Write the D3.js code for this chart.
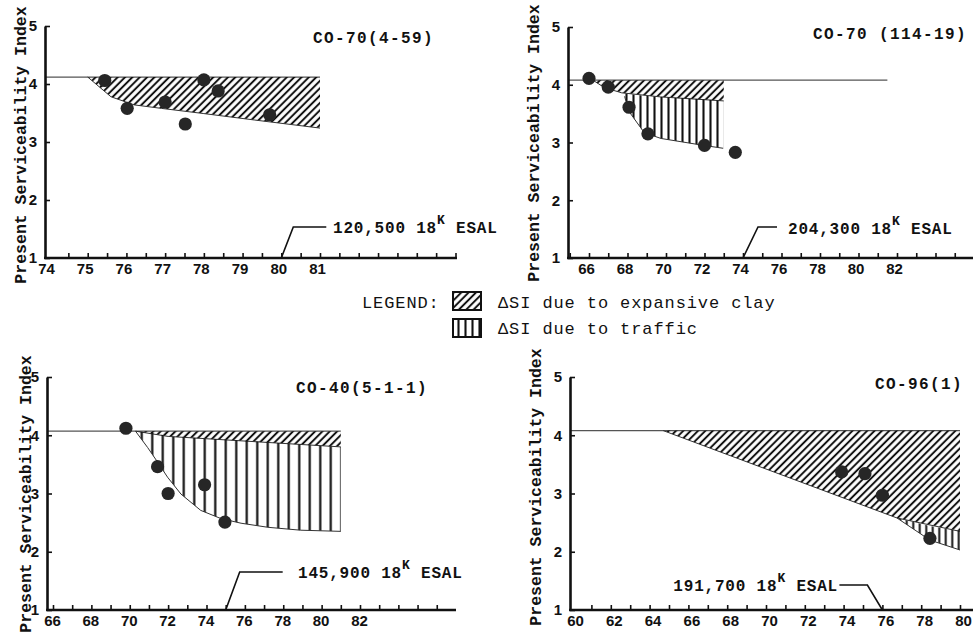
<!DOCTYPE html>
<html>
<head>
<meta charset="utf-8">
<script src="https://d3js.org/d3.v7.min.js"></script>
<style>
  body { margin: 0; background: #fff; }
  .ylab { font: bold 16.5px "Liberation Mono", monospace; fill: #111; }
  .title { font: bold 16px "Liberation Mono", monospace; fill: #111; letter-spacing: 1.4px; }
  .note { font: bold 16px "Liberation Mono", monospace; fill: #111; letter-spacing: 0.8px; }
  .legend { font: 17px "Liberation Mono", monospace; fill: #111; letter-spacing: 0.9px; }
</style>
</head>
<body>
<svg id="chart" width="973" height="635"></svg>
<script>
// values
var yLabels = [1, 2, 3, 4, 5];
var titles = ["CO-70(4-59)", "CO-70 (114-19)", "CO-40(5-1-1)", "CO-96(1)"];
var esalText = ["120,500", "204,300", "145,900", "191,700"];
var esalYear = [80, 74, 75, 76];
var baseSI = [4.12, 4.08, 4.07, 4.08];
var baseEnd = [81, 81.5, 81, 80];

var p1Labels = [74, 75, 76, 77, 78, 79, 80, 81];
var p2Labels = [66, 68, 70, 72, 74, 76, 78, 80, 82];
var p3Labels = [66, 68, 70, 72, 74, 76, 78, 80, 82];
var p4Labels = [60, 62, 64, 66, 68, 70, 72, 74, 76, 78, 80];

// lower edge of the "expansive clay" band [year, PSI]
var p1Clay = [[75.0, 4.12], [75.6, 3.78], [76.2, 3.64], [76.9, 3.58], [78.0, 3.49], [79.3, 3.38], [81.0, 3.24]];
var p2Clay = [[66.2, 4.08], [66.8, 3.95], [67.7, 3.86], [69.7, 3.79], [73.0, 3.72]];
var p3Clay = [[70.3, 4.07], [72.0, 3.98], [81.0, 3.8]];
var p4Clay = [[64.7, 4.08], [76.75, 2.58], [80.0, 2.35]];

// "traffic" band [year, top PSI, bottom PSI]
var p1Traffic = [];
var p2Traffic = [[67.85, 3.85, 3.8], [68.05, 3.84, 3.55], [68.87, 3.81, 3.17], [69.74, 3.79, 3.07], [71.95, 3.75, 2.95], [72.97, 3.72, 2.9]];
var p3Traffic = [[70.3, 4.07, 4.07], [70.93, 4.05, 3.79], [71.45, 4.03, 3.54], [71.97, 3.98, 3.28], [72.67, 3.97, 2.99], [73.7, 3.95, 2.71],
                 [74.75, 3.93, 2.57], [75.8, 3.91, 2.49], [77.2, 3.88, 2.42], [78.9, 3.84, 2.37], [81.0, 3.8, 2.35]];
var p4Traffic = [[76.75, 2.58, 2.58], [78.45, 2.44, 2.2], [80.0, 2.35, 2.03]];

// measured points [year, PSI]
var p1Dots = [[75.44, 4.06], [76.02, 3.58], [77.0, 3.69], [77.52, 3.31], [78.0, 4.07], [78.37, 3.88], [79.7, 3.47]];
var p2Dots = [[66.0, 4.11], [67.0, 3.96], [68.08, 3.61], [69.06, 3.15], [72.0, 2.95], [73.6, 2.83]];
var p3Dots = [[69.8, 4.12], [71.45, 3.46], [72.0, 3.0], [73.9, 3.15], [74.96, 2.51]];
var p4Dots = [[73.9, 3.37], [75.1, 3.34], [76.0, 2.97], [78.45, 2.23]];

var svg = d3.select('#chart');
var defs = svg.append('defs');

function hatch(id, w, angle, sw) {
  defs.append('pattern')
    .attr('id', id)
    .attr('patternUnits', 'userSpaceOnUse')
    .attr('width', w).attr('height', 10)
    .attr('patternTransform', 'rotate(' + angle + ')')
    .append('line')
      .attr('x1', w / 2).attr('x2', w / 2)
      .attr('y1', 0).attr('y2', 10)
      .attr('stroke', '#111').attr('stroke-width', sw);
}
hatch('diag', 5.2, 45, 2);
hatch('vert7', 7, 0, 2.1);
hatch('vert10', 10.5, 0, 2.2);
hatch('vert6', 6.5, 0, 2);

var layout = [
  { ax: 45, axEnd: 457, yTop: 26, yBot: 258, ref: [74, 49, 81, 320], ticks: d3.range(74.5, 84.6, 0.5), labels: p1Labels, dx: -3, clay: p1Clay, traffic: p1Traffic, dots: p1Dots, vert: 'vert7',
    yl: [20, 145], tt: [313, 43], note: [[12, -31], [45, -31]], txt: [333, 233], anchor: 'start' },
  { ax: 568, axEnd: 973, yTop: 27, yBot: 258, ref: [66, 589, 74, 743], ticks: d3.range(65, 86, 1), labels: p2Labels, dx: -3, clay: p2Clay, traffic: p2Traffic, dots: p2Dots, vert: 'vert7',
    yl: [533, 143], tt: [813, 39], note: [[15, -31], [34, -31]], txt: [788, 234], anchor: 'start' },
  { ax: 47, axEnd: 456, yTop: 377, yBot: 610, ref: [66, 53, 82, 360], ticks: d3.range(66, 87, 1), labels: p3Labels, dx: -1, clay: p3Clay, traffic: p3Traffic, dots: p3Dots, vert: 'vert10',
    yl: [25, 494], tt: [296, 393], note: [[14, -38], [57, -38]], txt: [298, 578], anchor: 'start' },
  { ax: 570, axEnd: 973, yTop: 377, yBot: 610, ref: [60, 572, 80, 960], ticks: d3.range(61, 81, 1), labels: p4Labels, dx: 3, clay: p4Clay, traffic: p4Traffic, dots: p4Dots, vert: 'vert6',
    yl: [535, 487], tt: [875, 389], note: [[-15, -25], [-43, -25]], txt: [838, 591], anchor: 'end' }
];

function styleTicks(sel) {
  sel.attr('font-family', null).attr('font-size', null);
  sel.selectAll('text')
    .style('font-family', '"Liberation Sans", Arial, sans-serif')
    .style('font-weight', 'bold')
    .style('font-size', '15px')
    .attr('fill', '#111');
}

layout.forEach(function (p, i) {
  var x = d3.scaleLinear().domain([p.ref[0], p.ref[2]]).range([p.ref[1], p.ref[3]]);
  var y = d3.scaleLinear().domain([1, 5]).range([p.yBot, p.yTop]);
  var g = svg.append('g');

  // horizontal initial PSI line
  g.append('line')
    .attr('x1', p.ax).attr('x2', x(baseEnd[i]))
    .attr('y1', y(baseSI[i])).attr('y2', y(baseSI[i]))
    .attr('stroke', '#555').attr('stroke-width', 1.2);

  var clayArea = d3.area()
    .x(function (d) { return x(d[0]); })
    .y0(function (d) { return y(d[1]); })
    .y1(y(baseSI[i]));
  g.append('path').datum(p.clay)
    .attr('d', clayArea)
    .attr('fill', 'url(#diag)');
  g.append('path').datum(p.clay)
    .attr('d', d3.line().x(function (d) { return x(d[0]); }).y(function (d) { return y(d[1]); }))
    .attr('fill', 'none').attr('stroke', '#333').attr('stroke-width', 1);

  if (p.traffic.length) {
    var trafficArea = d3.area()
      .x(function (d) { return x(d[0]); })
      .y0(function (d) { return y(d[2]); })
      .y1(function (d) { return y(d[1]); });
    g.append('path').datum(p.traffic)
      .attr('d', trafficArea)
      .attr('fill', 'url(#' + p.vert + ')');
    g.append('path').datum(p.traffic)
      .attr('d', d3.line().x(function (d) { return x(d[0]); }).y(function (d) { return y(d[2]); }))
      .attr('fill', 'none').attr('stroke', '#333').attr('stroke-width', 1);
  }

  g.selectAll('circle.pt').data(p.dots).enter().append('circle')
    .attr('class', 'pt')
    .attr('cx', function (d) { return x(d[0]); })
    .attr('cy', function (d) { return y(d[1]); })
    .attr('r', 6.6)
    .attr('fill', '#262626');

  // x axis: minor ticks + labels
  var xa = g.append('g').attr('transform', 'translate(0,' + p.yBot + ')');
  xa.call(d3.axisBottom(x).tickValues(p.ticks).tickSizeInner(-5).tickSizeOuter(0).tickFormat(''));
  xa.select('.domain').remove();
  xa.selectAll('line').attr('stroke', '#111').attr('stroke-width', 1.6);
  var xl = g.append('g').attr('transform', 'translate(0,' + p.yBot + ')');
  xl.call(d3.axisBottom(x).tickValues(p.labels).tickSize(0).tickPadding(5).tickFormat(d3.format('d')));
  xl.select('.domain').remove();
  styleTicks(xl);
  xl.selectAll('text').attr('dx', p.dx);
  g.append('line')
    .attr('x1', p.ax - 1).attr('x2', p.axEnd)
    .attr('y1', p.yBot).attr('y2', p.yBot)
    .attr('stroke', '#111').attr('stroke-width', 2.6);

  // y axis
  var ya = g.append('g').attr('transform', 'translate(' + p.ax + ',0)');
  ya.call(d3.axisLeft(y).tickValues(yLabels).tickSizeInner(-5).tickSizeOuter(0).tickPadding(8).tickFormat(d3.format('d')));
  ya.select('.domain').attr('stroke', '#111').attr('stroke-width', 2.6);
  ya.selectAll('line').attr('stroke', '#111').attr('stroke-width', 1.6);
  styleTicks(ya);

  g.append('text')
    .attr('class', 'ylab')
    .attr('transform', 'translate(' + p.yl[0] + ',' + p.yl[1] + ') rotate(-90)')
    .attr('text-anchor', 'middle')
    .attr('dy', '0.35em')
    .text('Present Serviceability Index');

  g.append('text')
    .attr('class', 'title')
    .attr('x', p.tt[0]).attr('y', p.tt[1])
    .text(titles[i]);

  // ESAL pointer
  var x0 = x(esalYear[i]);
  g.append('path')
    .attr('d', d3.line()([[x0, p.yBot], [x0 + p.note[0][0], p.yBot + p.note[0][1]], [x0 + p.note[1][0], p.yBot + p.note[1][1]]]))
    .attr('fill', 'none').attr('stroke', '#111').attr('stroke-width', 1.6);

  var t = g.append('text')
    .attr('class', 'note')
    .attr('x', p.txt[0]).attr('y', p.txt[1])
    .attr('text-anchor', p.anchor);
  t.append('tspan').text(esalText[i] + ' 18');
  t.append('tspan').attr('dy', -9).attr('font-size', 13).text('K');
  t.append('tspan').attr('dy', 9).text(i === 2 ? '  ESAL' : ' ESAL');
});

// legend
var lg = svg.append('g');
lg.append('text').attr('class', 'legend').attr('x', 362).attr('y', 308).text('LEGEND:');
lg.append('rect').attr('x', 453).attr('y', 292).attr('width', 28).attr('height', 18)
  .attr('fill', 'url(#diag)').attr('stroke', '#111').attr('stroke-width', 2);
lg.append('text').attr('class', 'legend').attr('x', 498).attr('y', 308).text('\u0394SI due to expansive clay');
lg.append('rect').attr('x', 453).attr('y', 319).attr('width', 28).attr('height', 18)
  .attr('fill', 'url(#vert7)').attr('stroke', '#111').attr('stroke-width', 2);
lg.append('text').attr('class', 'legend').attr('x', 498).attr('y', 334).text('\u0394SI due to traffic');
</script>
</body>
</html>
